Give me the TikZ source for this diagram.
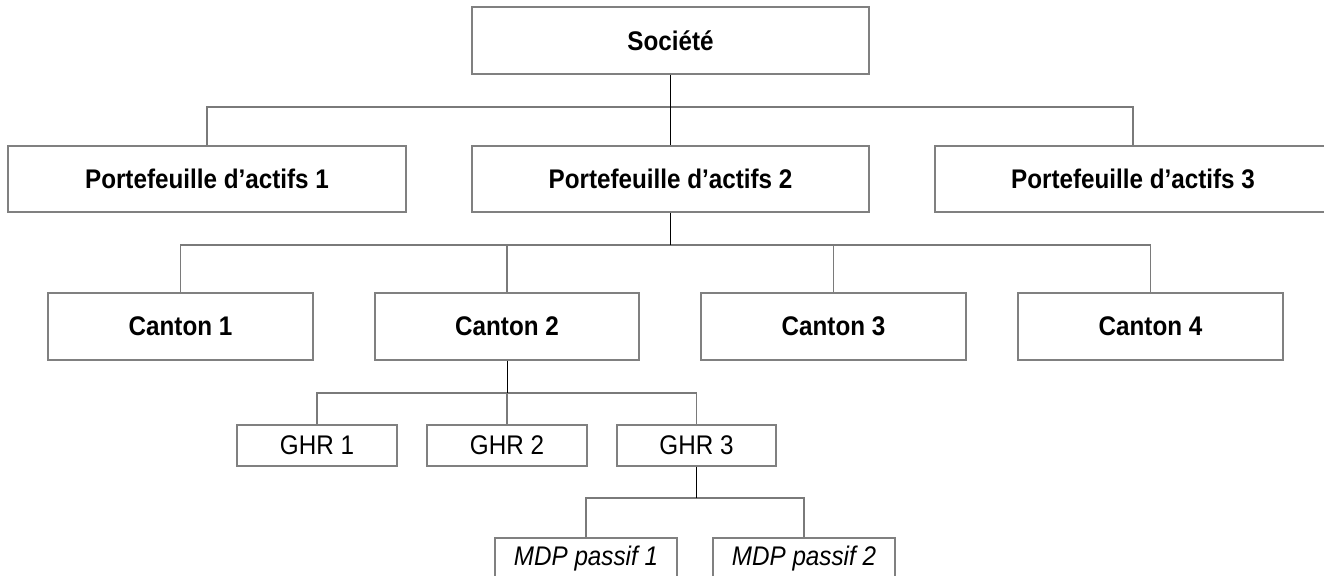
\documentclass[tikz,border=0pt]{standalone}
\usepackage{fontspec}
\setmainfont{Liberation Sans}[FakeStretch=0.9]
\begin{document}
\begin{tikzpicture}[x=0.75pt,y=-0.75pt,
  box/.style={draw=boxgray, line width=0.8pt, inner sep=0pt, anchor=center, font=\fontsize{20.2}{22}\selectfont, fill=white},
  bbox/.style={box, font=\fontsize{20.2}{22}\selectfont\bfseries},
  ibox/.style={box, font=\fontsize{20.2}{22}\selectfont\itshape},
  conn/.style={draw=black, line width=0.7pt},
  bus/.style={draw=busgray, line width=0.8pt}]
\definecolor{boxgray}{HTML}{808080}
\definecolor{busgray}{HTML}{7A7A7A}
\useasboundingbox (0,0) rectangle (1324,575);
\clip (0,0) rectangle (1324,575);
% level 0
\node[bbox, minimum width=297.75pt, minimum height=50.25pt] (soc) at (670.5,40.5) {Société};
% level 1
\node[bbox, minimum width=298.5pt, minimum height=49.5pt] (p1) at (207,179) {Portefeuille d’actifs 1};
\node[bbox, minimum width=297.75pt, minimum height=49.5pt] (p2) at (670.5,179) {Portefeuille d’actifs 2};
\node[bbox, minimum width=297pt, minimum height=49.5pt] (p3) at (1133,179) {Portefeuille d’actifs 3};
% level 2
\node[bbox, minimum width=198.75pt, minimum height=50.25pt] (c1) at (180.5,326.5) {Canton 1};
\node[bbox, minimum width=198pt, minimum height=50.25pt] (c2) at (507,326.5) {Canton 2};
\node[bbox, minimum width=198.75pt, minimum height=50.25pt] (c3) at (833.5,326.5) {Canton 3};
\node[bbox, minimum width=198.75pt, minimum height=50.25pt] (c4) at (1150.5,326.5) {Canton 4};
% level 3
\node[box, minimum width=120pt, minimum height=30.75pt] (g1) at (317,445.5) {GHR 1};
\node[box, minimum width=120pt, minimum height=30.75pt] (g2) at (507,445.5) {GHR 2};
\node[box, minimum width=119.25pt, minimum height=30.75pt] (g3) at (696.5,445.5) {GHR 3};
% level 4
\node[ibox, minimum width=136.5pt, minimum height=30.75pt] (m1) at (586,558.5) {MDP passif 1};
\node[ibox, minimum width=136.5pt, minimum height=30.75pt] (m2) at (804,558.5) {MDP passif 2};
% bus coordinates
\coordinate (b1) at (670.5,107);
\coordinate (b2) at (670.5,245);
\coordinate (b3) at (507,393);
\coordinate (b4) at (696.5,498);
% connectors
\draw[bus] (p1.north) |- (b1) -| (p3.north);
\draw[conn] (soc.south) -- (p2.north);
\draw[bus] (c1.north) |- (b2) -| (c4.north);
\draw[bus] (c2.north) -- (c2.north |- b2);
\draw[bus] (c3.north) -- (c3.north |- b2);
\draw[conn] (p2.south) -- (b2);
\draw[bus] (g1.north) |- (b3) -| (g3.north);
\draw[bus] (g2.north) -- (b3);
\draw[conn] (c2.south) -- (b3);
\draw[bus] (m1.north) |- (b4) -| (m2.north);
\draw[conn] (g3.south) -- (b4);
\end{tikzpicture}
\end{document}
